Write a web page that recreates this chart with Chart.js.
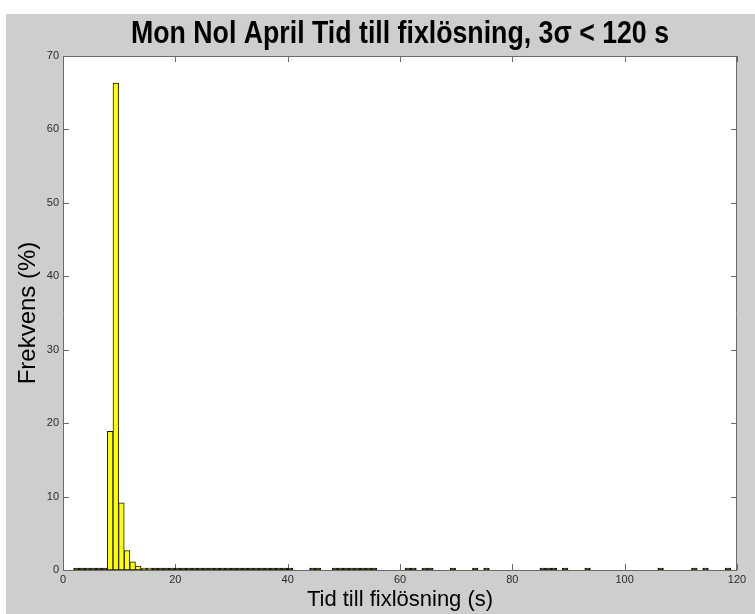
<!DOCTYPE html>
<html>
<head>
<meta charset="utf-8">
<script src="https://cdn.jsdelivr.net/npm/chart.js@4.4.1/dist/chart.umd.min.js"></script>
<style>
  html, body { margin: 0; padding: 0; background: #ffffff; }
  canvas { display: block; }
</style>
</head>
<body>
<canvas id="chart" width="755" height="614"></canvas>
<script>
// Histogram bins (centre of each 1 s bin)
const binCenters = [
  2.4, 3.4, 4.4, 5.4, 6.4, 7.4, 8.4, 9.4,
  10.4, 11.4, 12.4, 13.4, 14.4, 15.4, 16.4, 17.4, 18.4, 19.4,
  20.4, 21.4, 22.4, 23.4, 24.4, 25.4, 26.4, 27.4, 28.4, 29.4,
  30.4, 31.4, 32.4, 33.4, 34.4, 35.4, 36.4, 37.4, 38.4, 39.4,
  40.4, 41.4, 42.4, 43.4, 44.4, 45.4, 46.4, 47.4, 48.4, 49.4,
  50.4, 51.4, 52.4, 53.4, 54.4, 55.4, 56.4, 57.4, 58.4, 59.4,
  60.4, 61.4, 62.4, 63.4, 64.4, 65.4, 66.4, 67.4, 68.4, 69.4,
  70.4, 71.4, 72.4, 73.4, 74.4, 75.4, 76.4, 77.4, 78.4, 79.4,
  80.4, 81.4, 82.4, 83.4, 84.4, 85.4, 86.4, 87.4, 88.4, 89.4,
  90.4, 91.4, 92.4, 93.4, 94.4, 95.4, 96.4, 97.4, 98.4, 99.4,
  100.4, 101.4, 102.4, 103.4, 104.4, 105.4, 106.4, 107.4, 108.4, 109.4,
  110.4, 111.4, 112.4, 113.4, 114.4, 115.4, 116.4, 117.4, 118.4
];

// Frequency (%) per bin; null = empty bin
const frequencies = [
  0.03, 0.03, 0.03, 0.03, 0.03, 0.04, 18.9, 66.3,
  9.15, 2.65, 1.1, 0.55, 0.25, 0.12, 0.06, 0.03, 0.03, 0.03,
  0.03, 0.03, 0.03, 0.03, 0.03, 0.03, 0.03, 0.03, 0.03, 0.03,
  0.03, 0.03, 0.03, 0.03, 0.03, 0.03, 0.03, 0.03, 0.02, 0.02,
  0.02, null, null, null, 0.02, 0.02, null, null, 0.02, 0.02,
  0.02, 0.02, 0.02, 0.02, 0.02, 0.02, null, null, null, null,
  null, 0.02, 0.02, null, 0.02, 0.02, null, null, null, 0.02,
  null, null, null, 0.02, null, 0.02, null, null, null, null,
  null, null, null, null, null, 0.02, 0.02, 0.02, null, 0.02,
  null, null, null, 0.02, null, null, null, null, null, null,
  null, null, null, null, null, null, 0.02, null, null, null,
  null, null, 0.02, null, 0.02, null, null, null, 0.02
];

const xTickValues = [0, 20, 40, 60, 80, 100, 120];
const yTickValues = [0, 10, 20, 30, 40, 50, 60, 70];

const titleText = 'Mon Nol April Tid till fixlösning, 3σ < 120 s';
const xLabel = 'Tid till fixlösning (s)';
const yLabel = 'Frekvens (%)';

const figureGray = '#cecece';
const frameColor = '#6a6a6a';
const tickTextColor = '#2a2a2a';
const barFill = '#ffff00';
const barEdge = '#1a1a00';

// Figure background, white axes box, frame, inward tick marks and a condensed bold title
const framePlugin = {
  id: 'frame',
  beforeDraw(chart) {
    const { ctx, width, height, chartArea: a } = chart;
    ctx.save();
    ctx.fillStyle = '#ffffff';
    ctx.fillRect(0, 0, width, height);
    ctx.fillStyle = figureGray;
    ctx.fillRect(6, 14, width - 6, height - 14);
    ctx.fillStyle = '#ffffff';
    ctx.fillRect(a.left, a.top, a.right - a.left, a.bottom - a.top);
    ctx.restore();
  },
  beforeDatasetsDraw(chart) {
    const { ctx, chartArea: a, scales } = chart;
    const x = scales.x, y = scales.y;
    const len = 6;
    ctx.save();
    ctx.strokeStyle = frameColor;
    ctx.lineWidth = 1;
    ctx.beginPath();
    ctx.rect(Math.round(a.left) + 0.5, Math.round(a.top) + 0.5,
             Math.round(a.right - a.left) - 1, Math.round(a.bottom - a.top));
    x.ticks.forEach(t => {
      const px = Math.round(x.getPixelForValue(t.value)) + 0.5;
      ctx.moveTo(px, a.bottom); ctx.lineTo(px, a.bottom - len);
      ctx.moveTo(px, a.top); ctx.lineTo(px, a.top + len);
    });
    y.ticks.forEach(t => {
      const py = Math.round(y.getPixelForValue(t.value)) + 0.5;
      ctx.moveTo(a.left, py); ctx.lineTo(a.left + len, py);
      ctx.moveTo(a.right, py); ctx.lineTo(a.right - len, py);
    });
    ctx.stroke();
    ctx.restore();
  },
  afterDraw(chart, args, opts) {
    const { ctx, chartArea: a } = chart;
    ctx.save();
    ctx.fillStyle = '#000000';
    ctx.font = "bold 32px 'Liberation Sans', Arial, sans-serif";
    ctx.textAlign = 'center';
    ctx.textBaseline = 'middle';
    ctx.fillText(opts.text, (a.left + a.right) / 2, 34, opts.maxWidth);
    ctx.restore();
  }
};

const points = binCenters.map((c, i) => ({ x: c, y: frequencies[i] }));

new Chart(document.getElementById('chart'), {
  type: 'bar',
  data: {
    datasets: [{
      data: points,
      // very small bins show only as dark edge slivers on the baseline
      backgroundColor: c => (c.raw && c.raw.y !== null && c.raw.y < 0.1) ? barEdge : barFill,
      borderColor: barEdge,
      borderWidth: 1,
      borderSkipped: false,
      minBarLength: 2,
      barPercentage: 1,
      categoryPercentage: 1
    }]
  },
  options: {
    responsive: false,
    animation: false,
    layout: { padding: { left: 0, right: 18, top: 56, bottom: 0 } },
    plugins: {
      legend: { display: false },
      tooltip: { enabled: false },
      title: { display: false },
      frame: { text: titleText, maxWidth: 538 }
    },
    scales: {
      x: {
        type: 'linear',
        min: 0,
        max: 120,
        offset: false,
        grid: { display: false, drawTicks: false },
        border: { display: false },
        afterBuildTicks: s => { s.ticks = xTickValues.map(v => ({ value: v })); },
        afterFit: s => { s.height = 44; },
        ticks: {
          padding: 3,
          maxRotation: 0,
          color: tickTextColor,
          font: { family: "'Liberation Sans', Arial, sans-serif", size: 11 }
        },
        title: {
          display: true,
          text: xLabel,
          color: '#000000',
          font: { family: "'Liberation Sans', Arial, sans-serif", size: 22 },
          padding: { top: 0, bottom: 1 }
        }
      },
      y: {
        min: 0,
        max: 70,
        grid: { display: false, drawTicks: false },
        border: { display: false },
        afterBuildTicks: s => { s.ticks = yTickValues.map(v => ({ value: v })); },
        afterFit: s => { s.width = 63; },
        ticks: {
          padding: 4,
          color: tickTextColor,
          font: { family: "'Liberation Sans', Arial, sans-serif", size: 11 }
        },
        title: {
          display: true,
          text: yLabel,
          color: '#000000',
          font: { family: "'Liberation Sans', Arial, sans-serif", size: 24 },
          padding: { top: 14, bottom: 0 }
        }
      }
    }
  },
  plugins: [framePlugin]
});
</script>
</body>
</html>
